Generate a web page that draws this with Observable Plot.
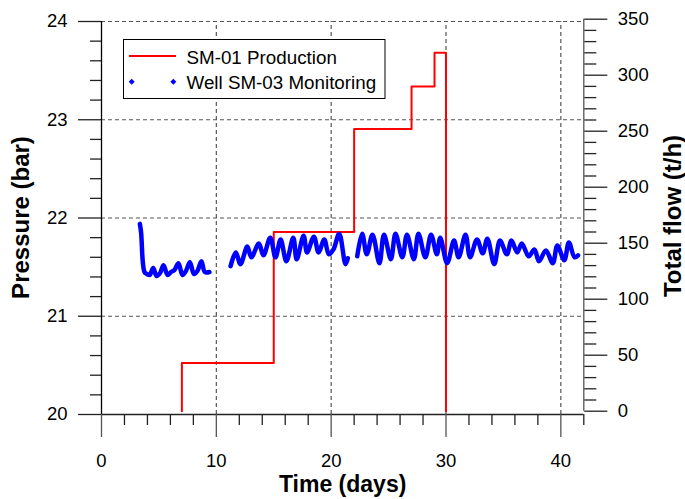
<!DOCTYPE html>
<html>
<head>
<meta charset="utf-8">
<script src="https://cdn.jsdelivr.net/npm/d3@7"></script>
<script src="https://cdn.jsdelivr.net/npm/@observablehq/plot@0.6"></script>
<style>
  html, body { margin: 0; padding: 0; background: #fff; }
  #chart { width: 685px; height: 499px; }
</style>
</head>
<body>
<div id="chart"></div>
<script>
// ---- Data ----
const prodDays = [7, 7, 15, 15, 22, 22, 27, 27, 29, 29, 30, 30];
const prodFlow = [0, 43, 43, 160, 160, 252, 252, 290, 290, 320, 320, 0];

const seg1Days = [3.34, 3.45, 3.6, 3.75, 3.95, 4.2, 4.5, 4.8, 5.1, 5.4, 5.75, 6.05, 6.35, 6.7, 7.05, 7.35, 7.7, 8.05, 8.35, 8.7, 9.0, 9.4];
const seg1P    = [21.94, 21.85, 21.55, 21.45, 21.43, 21.42, 21.49, 21.41, 21.44, 21.52, 21.42, 21.45, 21.47, 21.54, 21.42, 21.46, 21.55, 21.43, 21.46, 21.56, 21.45, 21.45];

const seg2Days = [11.24, 11.7, 12.1, 12.7, 13.05, 13.7, 14.1, 14.7, 15.15, 15.6, 16.1, 16.7, 17.0, 17.6, 17.9, 18.5, 18.9, 19.4, 19.8, 20.2, 20.7, 21.25, 21.45];
const seg2P    = [21.51, 21.65, 21.53, 21.71, 21.6, 21.74, 21.62, 21.8, 21.6, 21.78, 21.56, 21.8, 21.58, 21.82, 21.65, 21.81, 21.65, 21.78, 21.63, 21.68, 21.84, 21.53, 21.59];

const seg3Days = [22.27, 22.7, 23.1, 23.6, 24.2, 24.6, 25.2, 25.6, 26.2, 26.6, 27.2, 27.6, 28.2, 28.7, 29.2, 29.5, 30.1, 30.7, 31.1, 31.7, 32.1, 32.7, 33.2, 33.6, 34.2, 34.7, 35.3, 35.7, 36.2, 36.6, 37.2, 37.7, 38.1, 38.7, 39.3, 39.7, 40.3, 40.7, 41.2, 41.5];
const seg3P    = [21.61, 21.84, 21.63, 21.83, 21.54, 21.83, 21.58, 21.84, 21.6, 21.83, 21.58, 21.84, 21.6, 21.83, 21.63, 21.8, 21.54, 21.77, 21.6, 21.83, 21.6, 21.78, 21.64, 21.79, 21.53, 21.77, 21.63, 21.77, 21.65, 21.74, 21.61, 21.68, 21.56, 21.67, 21.54, 21.72, 21.57, 21.75, 21.6, 21.62];

const xMajor = [0, 10, 20, 30, 40];
const xMinor = [2, 4, 6, 8, 12, 14, 16, 18, 22, 24, 26, 28, 32, 34, 36, 38, 42];
const yMajor = [20, 21, 22, 23, 24];
const yMinor = [20.2, 20.4, 20.6, 20.8, 21.2, 21.4, 21.6, 21.8, 22.2, 22.4, 22.6, 22.8, 23.2, 23.4, 23.6, 23.8];
const flowMajor = [0, 50, 100, 150, 200, 250, 300, 350];
const flowMinor = [10, 20, 30, 40, 60, 70, 80, 90, 110, 120, 130, 140, 160, 170, 180, 190, 210, 220, 230, 240, 260, 270, 280, 290, 310, 320, 330, 340];
const xGrid = [10, 20, 30, 40];
const yGrid = [21, 22, 23, 24];

const legendLabels = ["SM-01 Production", "Well SM-03 Monitoring"];
const titles = { x: "Time (days)", yLeft: "Pressure (bar)", yRight: "Total flow (t/h)" };

// flow (t/h) -> pressure-scale units (right axis is offset slightly from left)
const f2p = f => 20 + (3.3 + 1.12 * f) / 98.25;
const p2f = p => ((p - 20) * 98.25 - 3.3) / 1.12;

const production = prodDays.map((t, i) => ({ t, p: f2p(prodFlow[i]) }));
const pressure = [
  ...seg1Days.map((t, i) => ({ t, p: seg1P[i], seg: 1 })),
  ...seg2Days.map((t, i) => ({ t, p: seg2P[i], seg: 2 })),
  ...seg3Days.map((t, i) => ({ t, p: seg3P[i], seg: 3 }))
];

const FONT = "'Liberation Sans', Arial, Helvetica, sans-serif";
const AX = "#222";
const GRID = "#555";

function legendMark(index, scales, values, dims) {
  const g = d3.create("svg:g").attr("text-anchor", "start");
  const x0 = 123.5, y0 = 39.5, w = 261.5, h = 59;
  g.append("rect").attr("x", x0).attr("y", y0).attr("width", w).attr("height", h)
    .attr("fill", "#fff").attr("stroke", "#000").attr("stroke-width", 1);
  g.append("line").attr("x1", 129).attr("x2", 176).attr("y1", 56).attr("y2", 56)
    .attr("stroke", "#ff0000").attr("stroke-width", 2);
  [131.7, 173.3].forEach(cx => {
    g.append("path").attr("d", `M${cx},${81.7 - 3}L${cx + 3},81.7L${cx},${81.7 + 3}L${cx - 3},81.7Z`)
      .attr("fill", "#0000ff");
  });
  g.append("text").attr("x", 186.5).attr("y", 63.5).text(legendLabels[0])
    .attr("text-anchor", "start").attr("font-size", 18.8).attr("font-family", FONT).attr("fill", "#000");
  g.append("text").attr("x", 186.5).attr("y", 89.2).text(legendLabels[1])
    .attr("text-anchor", "start").attr("font-size", 18.8).attr("font-family", FONT).attr("fill", "#000");
  return g.node();
}

const chart = Plot.plot({
  width: 685,
  height: 499,
  marginLeft: 101,
  marginRight: 101.7,
  marginTop: 21,
  marginBottom: 85,
  style: { background: "#fff", fontFamily: FONT, overflow: "visible" },
  x: { domain: [0, 42], axis: null },
  y: { domain: [20, 24], axis: null },
  marks: [
    // grid
    Plot.ruleX(xGrid, { y1: 20, y2: 24, stroke: GRID, strokeWidth: 1.2, strokeDasharray: "4,3" }),
    Plot.ruleY(yGrid, { x1: 0, x2: 42, stroke: GRID, strokeWidth: 1.2, strokeDasharray: "4,3" }),
    // left axis
    Plot.ruleX([0], { y1: 20, y2: 24, stroke: "#000", strokeWidth: 1.3 }),
    Plot.axisY(yMajor, { anchor: "left", tickSize: 23, tickPadding: 11, fontSize: 18.5, label: null, tickFormat: d => String(d), stroke: AX, fill: "#000", strokeWidth: 1.3 }),
    Plot.axisY(yMinor, { anchor: "left", tickSize: 11, tickFormat: () => "", label: null, stroke: AX, strokeWidth: 1.3 }),
    // bottom axis
    Plot.ruleY([20], { x1: 0, x2: 42, stroke: AX, strokeWidth: 1.3 }),
    Plot.axisX(xMajor, { anchor: "bottom", tickSize: 23, tickPadding: 16, fontSize: 18.5, label: null, tickFormat: d => String(d), stroke: "#555", fill: "#000", strokeWidth: 1.3 }),
    Plot.axisX(xMinor, { anchor: "bottom", tickSize: 11, tickFormat: () => "", label: null, stroke: AX, strokeWidth: 1.3 }),
    // right axis (flow)
    Plot.ruleX([42], { y1: f2p(0), y2: f2p(350), stroke: "#555", strokeWidth: 1.3 }),
    Plot.axisY(flowMajor.map(f2p), { anchor: "right", tickSize: 23, tickPadding: 11, fontSize: 18.5, label: null, tickFormat: d => String(Math.abs(Math.round(p2f(d)))), stroke: AX, fill: "#000", strokeWidth: 1.3 }),
    Plot.axisY(flowMinor.map(f2p), { anchor: "right", tickSize: 12, tickFormat: () => "", label: null, stroke: AX, strokeWidth: 1.3 }),
    // data
    Plot.line(production, { x: "t", y: "p", stroke: "#ff0000", strokeWidth: 2 }),
    Plot.line(pressure, { x: "t", y: "p", z: "seg", stroke: "#0000ff", strokeWidth: 4.5, curve: "catmull-rom", strokeLinejoin: "round", strokeLinecap: "round" }),
    // titles
    Plot.text([titles.x], { frameAnchor: "bottom", dy: 70, fontSize: 23, fontWeight: "bold", fill: "#000", lineAnchor: "middle", textAnchor: "middle" }),
    Plot.text([titles.yLeft], { frameAnchor: "left", dx: -80, dy: -0.5, rotate: -90, fontSize: 24, fontWeight: "bold", fill: "#000", lineAnchor: "middle", textAnchor: "middle" }),
    Plot.text([titles.yRight], { frameAnchor: "right", dx: 90, dy: -2, rotate: -90, fontSize: 24, fontWeight: "bold", fill: "#000", lineAnchor: "middle", textAnchor: "middle" }),
    // legend
    legendMark
  ]
});
document.getElementById("chart").appendChild(chart);
</script>
</body>
</html>
